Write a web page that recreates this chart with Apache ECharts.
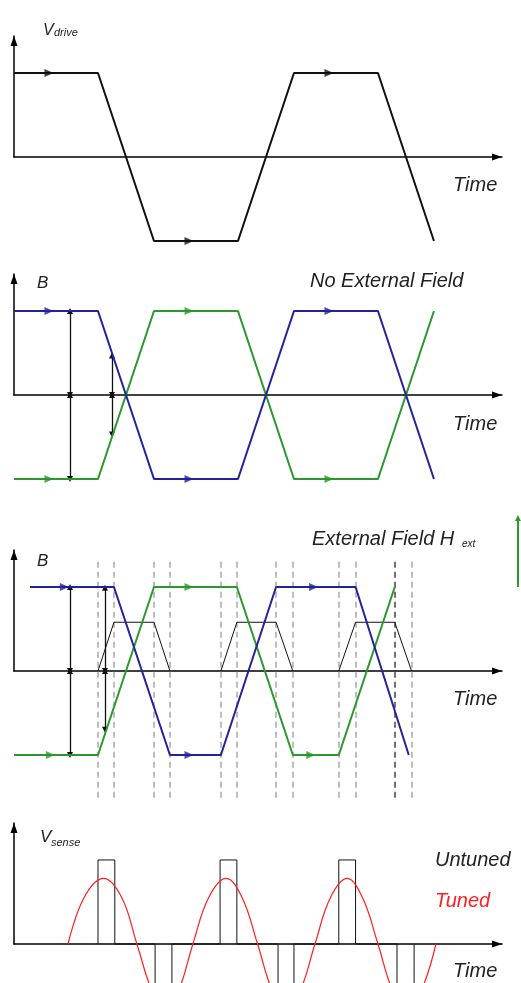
<!DOCTYPE html>
<html>
<head>
<meta charset="utf-8">
<script src="https://cdn.jsdelivr.net/npm/echarts@6/dist/echarts.min.js"></script>
<style>
  html, body { margin: 0; padding: 0; background: #fff; }
  #chart { width: 521px; height: 983px; }
</style>
</head>
<body>
<div id="chart"></div>
<script>
// time: 1 unit = half a ramp, level: 1 = plateau height
var driveT = [0, 3, 5, 8, 10, 13, 15];
var driveV = [1, 1, -1, -1, 1, 1, -1];
var plateauArrowT = [1.25, 6.25, 11.25];
var driveArrowV = [1, -1, 1];

// no external field
var blueT = [0, 3, 5, 8, 10, 13, 15];
var blueV = [1, 1, -1, -1, 1, 1, -1];
var greenT = [0, 3, 5, 8, 10, 13, 15];
var greenV = [-1, -1, 1, 1, -1, -1, 1];
var blueArrowV = [1, -1, 1];
var greenArrowV = [-1, 1, -1];
var span2T = [2.0, 2.0, 3.5, 3.5];
var span2From = [1, 0, 0.47, 0];
var span2To = [0, -1, 0, -0.47];

// external field
var extBlueT = [0.57, 3.57, 5.57, 7.39, 9.36, 12.2, 14.1];
var extBlueV = [1, 1, -1, -1, 1, 1, -1];
var extGreenT = [0, 3, 5, 7.96, 9.96, 11.6, 13.6];
var extGreenV = [-1, -1, 1, 1, -1, -1, 1];
var extBlueArrowT = [1.8, 6.25, 10.7];
var extGreenArrowT = [1.3, 6.25, 10.6];
var sumT = [3.0, 3.57, 5.0, 5.57, 5.57, 7.39, 7.96, 9.36, 9.96, 9.96, 11.6, 12.2, 13.6, 14.2];
var sumV = [0, 0.58, 0.58, 0, '-', 0, 0.58, 0.58, 0, '-', 0, 0.58, 0.58, 0];
var edgeT = [3.0, 3.57, 5.0, 5.57, 7.39, 7.96, 9.36, 9.96, 11.6, 12.2, 13.6, 14.2];
var edgeTop = 1.3, edgeBottom = -1.54;
var span3T = [2.0, 2.0, 3.25, 3.25];
var span3From = [1, 0, 0.99, 0];
var span3To = [0, -1, 0, -0.7];
var hextT = 18.0, hextFrom = 1.0, hextTo = 1.82;

// sense voltage
var untunedT = [3.0, 3.0, 3.6, 3.6, 5.04, 5.04, 5.64, 5.64, 7.36, 7.36, 7.96, 7.96,
                9.43, 9.43, 10.0, 10.0, 11.6, 11.6, 12.2, 12.2, 13.68, 13.68, 14.29, 14.29];
var untunedV = [0, 1, 1, 0, 0, -1, -1, 0, 0, 1, 1, 0,
                0, -1, -1, 0, 0, 1, 1, 0, 0, -1, -1, 0];
var tunedT = [1.93, 2.5, 3.2, 3.85, 4.39, 4.92, 5.39, 5.88, 6.39, 6.95, 7.58, 8.15, 8.7,
              9.22, 9.72, 10.23, 10.75, 11.3, 11.9, 12.45, 13.0, 13.52, 14.03, 14.55, 15.07];
var tunedV = [0, 0.55, 0.78, 0.55, 0, -0.55, -0.78, -0.55, 0, 0.55, 0.78, 0.55, 0,
              -0.55, -0.78, -0.55, 0, 0.55, 0.78, 0.55, 0, -0.55, -0.78, -0.55, 0];

var BLUE = '#22229c', GREEN = '#2b982b', RED = '#ff1e1e', INK = '#111';

function zip(ts, vs) {
  return ts.map(function (t, i) { return [t, vs[i]]; });
}
function spans(ts, from, to) {
  return ts.map(function (t, i) { return { coords: [[t, from[i]], [t, to[i]]] }; });
}

var grids = [36, 274, 550, 823].map(function (top) {
  return { left: 14, top: top, width: 488, height: 121 };
});
var xAxes = grids.map(function (g, i) {
  return {
    gridIndex: i, type: 'value', min: 0, max: 17.43,
    axisLine: { show: true, onZero: true, symbol: ['none', 'triangle'], symbolSize: [7, 10],
                symbolOffset: [0, -5], lineStyle: { color: '#000', width: 1.5 } },
    axisTick: { show: false }, axisLabel: { show: false }, splitLine: { show: false }
  };
});
var yAxes = grids.map(function (g, i) {
  return {
    gridIndex: i, type: 'value', min: 0, max: 1.44,
    axisLine: { show: true, symbol: ['none', 'triangle'], symbolSize: [7, 10],
                symbolOffset: [0, -5], lineStyle: { color: '#000', width: 1.5 } },
    axisTick: { show: false }, axisLabel: { show: false }, splitLine: { show: false }
  };
});

function wave(i, data, color, width) {
  return {
    type: 'line', xAxisIndex: i, yAxisIndex: i, data: data, clip: false,
    showSymbol: false, symbol: 'none', lineStyle: { color: color, width: width || 2 }
  };
}
function heads(i, data, color) {
  return {
    type: 'scatter', xAxisIndex: i, yAxisIndex: i, data: data, clip: false,
    symbol: 'triangle', symbolRotate: -90, symbolSize: [8, 9],
    itemStyle: { color: color }
  };
}
function segs(i, data, color, width, type, symbol) {
  return {
    type: 'lines', coordinateSystem: 'cartesian2d', xAxisIndex: i, yAxisIndex: i,
    data: data, clip: false, symbol: symbol || 'none', symbolSize: 6,
    lineStyle: { color: color, width: width, type: type || 'solid', opacity: 1 }
  };
}

var edgeLines = edgeT.map(function (t, k) {
  return { coords: [[t, edgeTop], [t, edgeBottom]],
           lineStyle: k === 10 ? { color: '#444' } : undefined };
});

var series = [
  // panel 1
  wave(0, zip(driveT, driveV), INK),
  heads(0, zip(plateauArrowT, driveArrowV), INK),
  // panel 2
  segs(1, spans(span2T, span2From, span2To), INK, 1.3, 'solid', ['triangle', 'triangle']),
  wave(1, zip(greenT, greenV), GREEN),
  wave(1, zip(blueT, blueV), BLUE),
  heads(1, zip(plateauArrowT, blueArrowV), BLUE),
  heads(1, zip(plateauArrowT, greenArrowV), GREEN),
  // panel 3
  segs(2, edgeLines, '#a8a8a8', 1.5, [6, 4]),
  wave(2, zip(sumT, sumV), INK, 1),
  segs(2, spans(span3T, span3From, span3To), INK, 1.3, 'solid', ['triangle', 'triangle']),
  wave(2, zip(extGreenT, extGreenV), GREEN),
  wave(2, zip(extBlueT, extBlueV), BLUE),
  heads(2, zip(extBlueArrowT, blueArrowV), BLUE),
  heads(2, zip(extGreenArrowT, greenArrowV), GREEN),
  segs(2, [{ coords: [[hextT, hextFrom], [hextT, hextTo]] }], GREEN, 2, 'solid', ['none', 'triangle']),
  // panel 4
  wave(3, zip(untunedT, untunedV), INK, 1),
  Object.assign(wave(3, zip(tunedT, tunedV), RED, 1.2), { smooth: 0.4 })
];

function label(text, x, y, size, color) {
  return {
    type: 'text', x: x, y: y, silent: true,
    style: { text: text, fill: color || '#222', fontSize: size, fontStyle: 'italic',
             fontFamily: '"Liberation Sans", Arial, sans-serif', verticalAlign: 'middle' }
  };
}

var chart = echarts.init(document.getElementById('chart'), null, { renderer: 'canvas' });
chart.setOption({
  animation: false,
  backgroundColor: '#fff',
  grid: grids,
  xAxis: xAxes,
  yAxis: yAxes,
  series: series,
  graphic: [
    label('V', 43, 31, 16), label('drive', 54, 33, 11),
    label('Time', 453, 185, 20),
    label('B', 37, 283, 17),
    label('No External Field', 310, 281, 20),
    label('Time', 453, 424, 20),
    label('External Field H', 312, 539, 20), label('ext', 462, 544, 10),
    label('B', 37, 561, 17),
    label('Time', 453, 699, 20),
    label('V', 40, 837, 17), label('sense', 51, 843, 11),
    label('Untuned', 435, 860, 20),
    label('Tuned', 435, 901, 20, RED),
    label('Time', 453, 971, 20)
  ]
});
window.addEventListener('resize', function () { chart.resize(); });
</script>
</body>
</html>
